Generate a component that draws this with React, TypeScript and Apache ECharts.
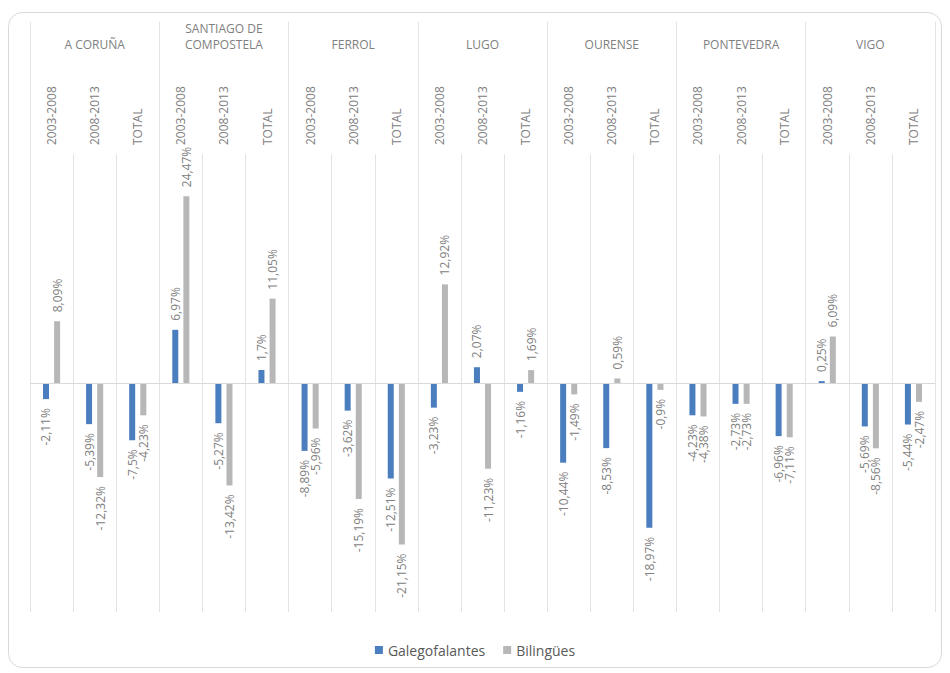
import React, { useEffect, useRef } from "react";
import * as echarts from "echarts";

const cities = ["A CORUÑA", "SANTIAGO DE\nCOMPOSTELA", "FERROL", "LUGO", "OURENSE", "PONTEVEDRA", "VIGO"];
const periods = ["2003-2008", "2008-2013", "TOTAL"];

const galegofalantes = [
  -2.11, -5.39, -7.5,
  6.97, -5.27, 1.7,
  -8.89, -3.62, -12.51,
  -3.23, 2.07, -1.16,
  -10.44, -8.53, -18.97,
  -4.23, -2.73, -6.96,
  0.25, -5.69, -5.44,
];
const bilingues = [
  8.09, -12.32, -4.23,
  24.47, -13.42, 11.05,
  -5.96, -15.19, -21.15,
  12.92, -11.23, 1.69,
  -1.49, 0.59, -0.9,
  -4.38, -2.73, -7.11,
  6.09, -8.56, -2.47,
];

const categories: string[] = [];
cities.forEach((c, ci) => periods.forEach((p) => categories.push(ci + "|" + p)));

const fmt = (v: number) => String(v).replace(".", ",") + "%";

const labelFor = (v: number) =>
  v >= 0
    ? { show: true, position: "top", rotate: 90, align: "left", verticalAlign: "middle", distance: 9 }
    : { show: true, position: "bottom", rotate: 90, align: "right", verticalAlign: "middle", distance: 9 };

export default function App() {
  const ref = useRef<HTMLDivElement>(null);
  useEffect(() => {
    if (!ref.current) return;
    const chart = echarts.init(ref.current, undefined, { renderer: "svg" });
    const labelStyle = { color: "#808080", fontSize: 12, fontFamily: "Open Sans", formatter: (p: any) => fmt(p.value) };
    chart.setOption({
      animation: false,
      backgroundColor: "#ffffff",
      graphic: [
        {
          type: "rect",
          shape: { x: 8.5, y: 12.5, width: 933, height: 655, r: 14 },
          style: { fill: "none", stroke: "#d9d9d9", lineWidth: 1 },
          z: -10,
          silent: true,
        },
      ],
      grid: { left: 30, right: 15, top: 154, bottom: 61, containLabel: false },
      legend: {
        top: 638,
        left: "center",
        itemWidth: 8,
        itemHeight: 8,
        itemGap: 18,
        icon: "rect",
        textStyle: { color: "#595959", fontSize: 14, fontFamily: "Open Sans" },
        data: ["Galegofalantes", "Bilingües"],
      },
      xAxis: [
        {
          type: "category",
          position: "top",
          data: categories,
          axisLine: { show: false },
          axisTick: { show: false },
          splitLine: { show: true, interval: 0, lineStyle: { color: "#e3e3e3", width: 1 } },
          axisLabel: {
            interval: 0,
            rotate: 90,
            margin: 9,
            color: "#808080",
            fontSize: 12,
            fontFamily: "Open Sans",
            formatter: (v: string) => v.split("|")[1],
          },
        },
        {
          type: "category",
          position: "top",
          data: cities,
          axisLine: { show: false },
          axisTick: { show: true, interval: 0, length: 132, lineStyle: { color: "#e3e3e3", width: 1 } },
          splitLine: { show: true, interval: 0, lineStyle: { color: "#e3e3e3", width: 1 } },
          axisLabel: {
            interval: 0,
            margin: 102,
            color: "#808080",
            fontSize: 12,
            lineHeight: 16,
            fontFamily: "Open Sans",
          },
        },
      ],
      yAxis: { type: "value", min: -30, max: 30, show: false },
      series: [
        {
          name: "Galegofalantes",
          type: "bar",
          xAxisIndex: 0,
          barWidth: 6,
          barGap: "85%",
          itemStyle: { color: "#4a7ebf" },
          label: labelStyle,
          data: galegofalantes.map((v) => ({ value: v, label: labelFor(v) })),
          markLine: {
            silent: true,
            symbol: ["none", "none"],
            label: { show: false },
            lineStyle: { color: "#d9d9d9", type: "solid", width: 1 },
            data: [{ yAxis: 0 }],
          },
        },
        {
          name: "Bilingües",
          type: "bar",
          xAxisIndex: 0,
          barWidth: 6,
          barGap: "85%",
          itemStyle: { color: "#b7b7b7" },
          label: labelStyle,
          data: bilingues.map((v) => ({ value: v, label: labelFor(v) })),
        },
      ],
    });
    return () => chart.dispose();
  }, []);
  return <div ref={ref} style={{ position: "fixed", left: 0, top: 0, width: 950, height: 673 }} />;
}
